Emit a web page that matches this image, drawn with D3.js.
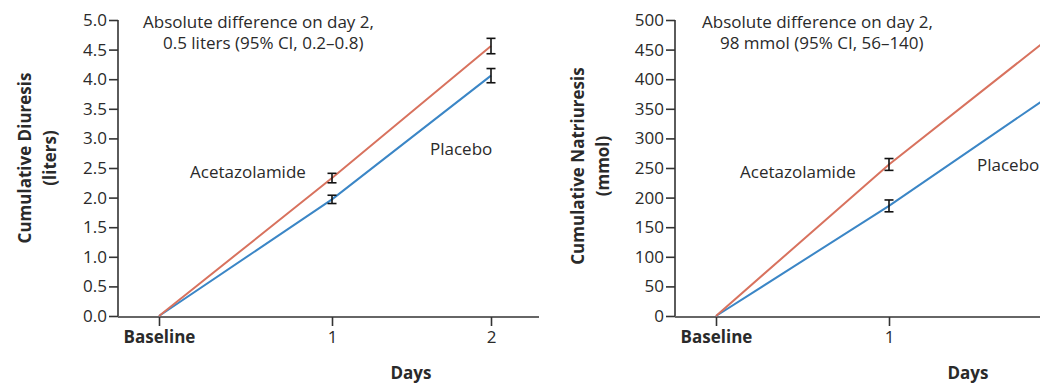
<!DOCTYPE html>
<html>
<head>
<meta charset="utf-8">
<script src="https://cdn.jsdelivr.net/npm/d3@7"></script>
<style>
  body { margin: 0; background: #fff; overflow: hidden; }
  svg { display: block; font-family: "Open Sans", sans-serif; }
  .axis path, .axis line { stroke: #333; stroke-width: 1.6; }
  .axis text { fill: #2a2a2a; font-size: 17px; font-family: "Open Sans", sans-serif; }
</style>
</head>
<body>
<div id="chart"></div>
<script>
var days = [0, 1, 2];
var dayLabels = ["Baseline", "1", "2"];

var diuresisAcet = [0, 2.33, 4.56];
var diuresisAcetErr = [0, 0.08, 0.13];
var diuresisPlac = [0, 1.97, 4.06];
var diuresisPlacErr = [0, 0.07, 0.12];
var diuresisTicks = [0, 0.5, 1, 1.5, 2, 2.5, 3, 3.5, 4, 4.5, 5];

var natriAcet = [0, 256, 468];
var natriAcetErr = [0, 10, 14];
var natriPlac = [0, 186, 370];
var natriPlacErr = [0, 10, 13];
var natriTicks = [0, 50, 100, 150, 200, 250, 300, 350, 400, 450, 500];

var width = 1040, height = 383;
var yTop = 20, yBottom = 316;
var red = "#d8725e", blue = "#3b86c6";
var textColor = "#2a2a2a";

var svg = d3.select("#chart").append("svg")
    .attr("width", width)
    .attr("height", height);

function label(g, x, y, txt, size) {
  return g.append("text")
      .attr("x", x).attr("y", y)
      .style("font-size", (size || 17) + "px")
      .style("fill", textColor)
      .text(txt);
}

function drawPanel(opts) {
  var g = svg.append("g").attr("transform", "translate(" + opts.left + ",0)");

  var x = d3.scaleLinear().domain([0, 1, 2]).range([41, 214, 373]);
  var y = d3.scaleLinear().domain([0, opts.max]).range([yBottom, yTop]);

  // y axis
  var yAxis = g.append("g").attr("class", "axis")
      .call(d3.axisLeft(y).tickValues(opts.ticks).tickSize(9).tickPadding(2).tickFormat(opts.fmt));
  yAxis.select(".domain").attr("d", "M0," + yTop + "V" + yBottom);

  // x axis
  var xAxis = g.append("g").attr("class", "axis")
      .attr("transform", "translate(0," + (yBottom + 1) + ")")
      .call(d3.axisBottom(x).tickValues(days).tickSize(9).tickPadding(5)
        .tickFormat(function(d, i) { return dayLabels[i]; }));
  xAxis.select(".domain").attr("d", "M0,0H421");
  xAxis.selectAll(".tick text")
      .style("font-weight", function(d) { return d === 0 ? "bold" : null; });

  // axis titles
  var yt = g.append("text")
      .attr("transform", "translate(" + opts.titleX + "," + opts.titleY + ") rotate(-90)")
      .attr("text-anchor", "middle")
      .style("font-weight", "bold")
      .style("font-size", "17px")
      .style("fill", textColor);
  yt.append("tspan").attr("x", 0).attr("dy", 0).text(opts.title1);
  yt.append("tspan").attr("x", 0).attr("dy", 25).text(opts.title2);

  label(g, 293, 379, "Days")
      .attr("text-anchor", "middle")
      .style("font-weight", "bold");

  // lines
  var line = d3.line()
      .x(function(d, i) { return x(days[i]); })
      .y(function(d) { return y(d); });

  [[opts.plac, blue], [opts.acet, red]].forEach(function(s) {
    g.append("path")
        .datum(s[0])
        .attr("fill", "none")
        .attr("stroke", s[1])
        .attr("stroke-width", 2)
        .attr("d", line);
  });

  // error bars
  [[opts.acet, opts.acetErr], [opts.plac, opts.placErr]].forEach(function(s) {
    var eb = g.append("g").selectAll("g")
        .data(days.filter(function(d) { return d > 0; }))
        .enter().append("g")
        .attr("stroke", "#111")
        .attr("stroke-width", 1.6);
    eb.append("line")
        .attr("x1", function(d) { return x(d); })
        .attr("x2", function(d) { return x(d); })
        .attr("y1", function(d) { return y(s[0][d] - s[1][d]); })
        .attr("y2", function(d) { return y(s[0][d] + s[1][d]); });
    [-1, 1].forEach(function(sign) {
      eb.append("line")
          .attr("x1", function(d) { return x(d) - 4.5; })
          .attr("x2", function(d) { return x(d) + 4.5; })
          .attr("y1", function(d) { return y(s[0][d] + sign * s[1][d]); })
          .attr("y2", function(d) { return y(s[0][d] + sign * s[1][d]); });
    });
  });

  // annotations
  label(g, opts.annX, 28, "Absolute difference on day 2,");
  label(g, opts.annX2, 49, opts.annText);
  label(g, opts.acetX, 178, "Acetazolamide");
  label(g, opts.placX, opts.placY, "Placebo");
}

drawPanel({
  left: 118, max: 5, ticks: diuresisTicks,
  fmt: d3.format(".1f"),
  acet: diuresisAcet, acetErr: diuresisAcetErr,
  plac: diuresisPlac, placErr: diuresisPlacErr,
  title1: "Cumulative Diuresis", title2: "(liters)",
  titleX: -87, titleY: 158,
  annX: 25, annX2: 45, annText: "0.5 liters (95% CI, 0.2\u20130.8)",
  acetX: 72, placX: 312, placY: 155
});

drawPanel({
  left: 675, max: 500, ticks: natriTicks,
  fmt: d3.format("d"),
  acet: natriAcet, acetErr: natriAcetErr,
  plac: natriPlac, placErr: natriPlacErr,
  title1: "Cumulative Natriuresis", title2: "(mmol)",
  titleX: -91, titleY: 166,
  annX: 27, annX2: 45, annText: "98 mmol (95% CI, 56\u2013140)",
  acetX: 65, placX: 302, placY: 171
});
</script>
</body>
</html>
